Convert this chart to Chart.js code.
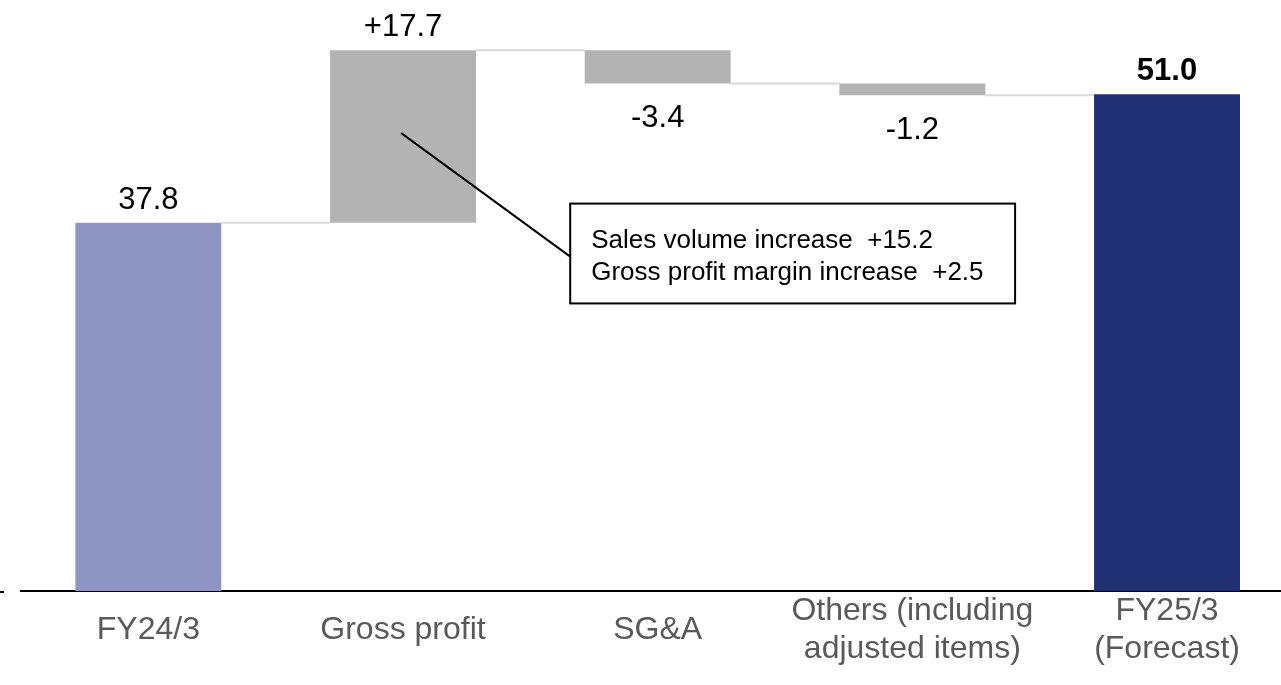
<!DOCTYPE html>
<html>
<head>
<meta charset="utf-8">
<script src="https://cdn.jsdelivr.net/npm/chart.js@4.4.1/dist/chart.umd.min.js"></script>
<style>
  html, body { margin: 0; padding: 0; background: #ffffff; overflow: hidden; }
  #wrap { position: relative; width: 1281px; height: 685px; }
</style>
</head>
<body>
<div id="wrap"><canvas id="c" width="1281" height="685"></canvas></div>
<script>
// Operating profit bridge (billion yen)
const categories = [['FY24/3'], ['Gross profit'], ['SG&A'], ['Others (including', 'adjusted items)'], ['FY25/3', '(Forecast)']];
const startValue = 37.8;
const changes = [17.7, -3.4, -1.2];
const endValue = 51.0;
const valueLabels = ['37.8', '+17.7', '-3.4', '-1.2', '51.0'];
const barColors = ['#8F96C4', '#B3B3B3', '#B3B3B3', '#B3B3B3', '#1F3174'];
const noteLines = ['Sales volume increase  +15.2', 'Gross profit margin increase  +2.5'];

// Floating ranges for the waterfall and the running level after each bar
const ranges = [[0, startValue]];
const levels = [startValue];
let level = startValue;
changes.forEach(d => {
  const next = Math.round((level + d) * 10) / 10;
  ranges.push([Math.min(level, next), Math.max(level, next)]);
  level = next;
  levels.push(level);
});
ranges.push([0, endValue]);
const barData = ranges.map((r, i) => ({ x: i, y: r }));

const FONT = '"Liberation Sans", Arial, sans-serif';

// Callout on the gross profit bar, in data units
const note = {
  from: { x: 0.993, y: 47.0 },
  to: { x: 1.6565, y: 34.33 },
  box: { x1: 1.6565, y1: 39.77, x2: 3.4034, y2: 29.52 }
};

const waterfallDecor = {
  id: 'waterfallDecor',
  beforeDatasetsDraw(chart) {
    const { ctx } = chart;
    const ys = chart.scales.y;
    const bars = chart.getDatasetMeta(0).data;
    ctx.save();
    ctx.strokeStyle = '#D9D9D9';
    ctx.lineWidth = 2;
    for (let i = 0; i < bars.length - 1; i++) {
      const y = ys.getPixelForValue(levels[i]);
      ctx.beginPath();
      ctx.moveTo(bars[i].x + bars[i].width / 2, y);
      ctx.lineTo(bars[i + 1].x - bars[i + 1].width / 2, y);
      ctx.stroke();
    }
    ctx.restore();
  },
  afterDatasetsDraw(chart) {
    const { ctx, chartArea } = chart;
    const xs = chart.scales.x, ys = chart.scales.y;
    const bars = chart.getDatasetMeta(0).data;
    ctx.save();
    // value labels
    ctx.textAlign = 'center';
    ctx.textBaseline = 'alphabetic';
    ctx.fillStyle = '#000000';
    bars.forEach((b, i) => {
      const last = i === bars.length - 1;
      ctx.font = (last ? 'bold ' : '') + '31px ' + FONT;
      const isDrop = i > 0 && !last && changes[i - 1] < 0;
      const top = Math.min(b.y, b.base), bottom = Math.max(b.y, b.base);
      const y = isDrop ? bottom + 44 : top - 14;
      ctx.fillText(valueLabels[i], b.x, y);
    });

    // callout leader and box
    ctx.strokeStyle = '#000000';
    ctx.lineWidth = 2;
    ctx.beginPath();
    ctx.moveTo(xs.getPixelForValue(note.from.x), ys.getPixelForValue(note.from.y));
    ctx.lineTo(xs.getPixelForValue(note.to.x), ys.getPixelForValue(note.to.y));
    ctx.stroke();
    const bx1 = xs.getPixelForValue(note.box.x1), by1 = ys.getPixelForValue(note.box.y1);
    const bx2 = xs.getPixelForValue(note.box.x2), by2 = ys.getPixelForValue(note.box.y2);
    ctx.fillStyle = '#ffffff';
    ctx.fillRect(bx1, by1, bx2 - bx1, by2 - by1);
    ctx.strokeRect(bx1, by1, bx2 - bx1, by2 - by1);
    ctx.fillStyle = '#000000';
    ctx.font = '26px ' + FONT;
    ctx.textAlign = 'left';
    noteLines.forEach((t, k) => ctx.fillText(t, bx1 + 21, by1 + 44 + k * 32));

    // short stub at the left end of the axis
    ctx.fillStyle = '#000000';
    ctx.fillRect(0, chartArea.bottom, 4, 2);
    ctx.restore();
  }
};

new Chart(document.getElementById('c'), {
  type: 'bar',
  data: {
    datasets: [{
      data: barData,
      backgroundColor: barColors,
      borderWidth: 0,
      barPercentage: 0.573,
      categoryPercentage: 1.0
    }]
  },
  options: {
    responsive: false,
    animation: false,
    layout: { padding: { left: 21, right: 0, top: 0, bottom: -22 } },
    plugins: { legend: { display: false }, tooltip: { enabled: false } },
    scales: {
      x: {
        type: 'linear',
        offset: false,
        min: -0.5,
        max: 4.4475,
        afterBuildTicks: s => { s.ticks = categories.map((_, i) => ({ value: i })); },
        grid: { display: false, drawTicks: false },
        border: { display: true, color: '#000000', width: 2 },
        ticks: {
          autoSkip: false,
          maxRotation: 0,
          crossAlign: 'center',
          padding: 20,
          color: '#595959',
          font: { family: FONT, size: 32, lineHeight: 1.1875 },
          callback: v => categories[v]
        }
      },
      y: {
        display: false,
        min: 0,
        max: 60.67
      }
    }
  },
  plugins: [waterfallDecor]
});
</script>
</body>
</html>
